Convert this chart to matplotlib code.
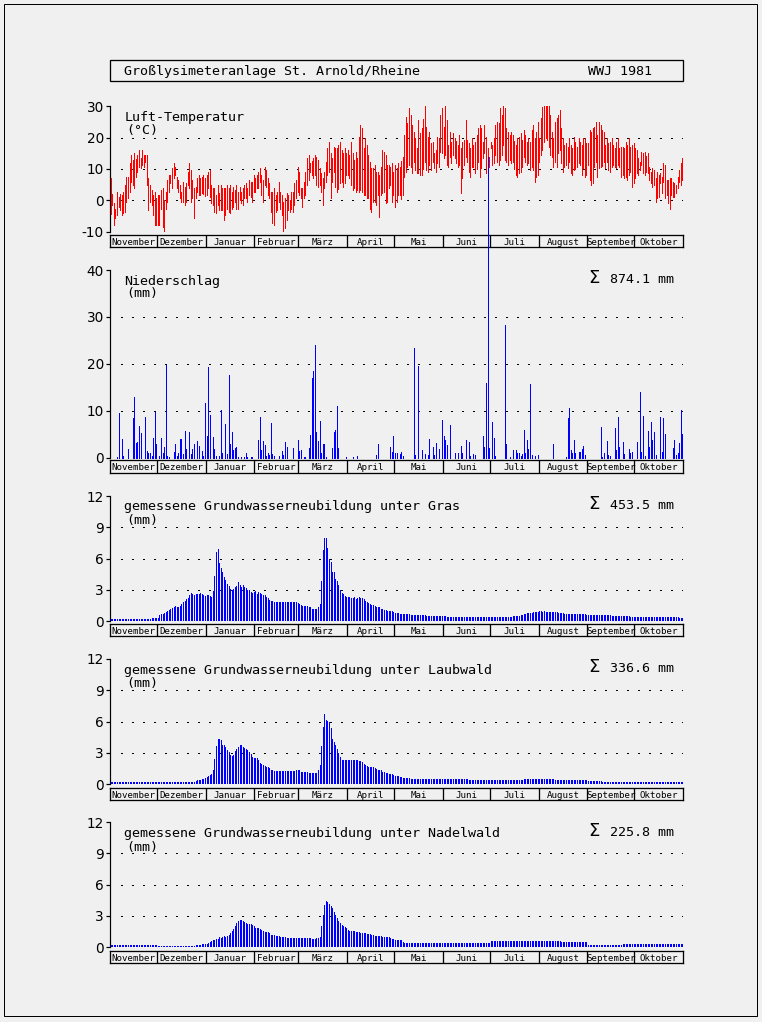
import numpy as np
import matplotlib
matplotlib.use("Agg")
import matplotlib.pyplot as plt
from matplotlib.patches import Rectangle

plt.rcParams['axes.unicode_minus'] = False

# ---------------------------------------------------------------- data
MONTHS = ["November", "Dezember", "Januar", "Februar", "März", "April",
          "Mai", "Juni", "Juli", "August", "September", "Oktober"]
MONTH_DAYS = [30, 31, 31, 28, 31, 30, 31, 30, 31, 31, 30, 31]

TITLE = "Großlysimeteranlage St. Arnold/Rheine"
YEAR_LABEL = "WWJ 1981"

TEMP_TITLE = "Luft-Temperatur"
TEMP_UNIT = "(°C)"
PREC_TITLE = "Niederschlag"
GW_TITLES = ["gemessene Grundwasserneubildung unter Gras",
             "gemessene Grundwasserneubildung unter Laubwald",
             "gemessene Grundwasserneubildung unter Nadelwald"]
SUM_PREC = "874.1"
GW_SUMS = ["453.5", "336.6", "225.8"]

TEMP_TICKS = [-10, 0, 10, 20, 30]
PREC_TICKS = [0, 10, 20, 30, 40]
GW_TICKS = [0, 3, 6, 9, 12]

# daily maximum air temperature (°C), one list per month
TMAX = [
    [7.0, 2.1, -0.7, -2.6, 2.8, 1.2, 1.9, 1.7, 2.8, 4.9, 7.6, 7.6, 11.8, 14.5, 12.8,
     15.0, 13.2, 14.5, 16.1, 13.4, 16.1, 14.5, 14.5, 14.5, 7.0, 4.9, 3.3, 1.7, 2.8, 0.6],
    [1.7, 1.7, 3.3, 3.8, 0.1, 2.8, 6.5, 8.1, 8.1, 10.2, 11.8, 10.7, 7.6, 6.5, 4.9, 2.8,
     6.0, 4.4, 5.4, 9.1, 11.8, 9.7, 6.5, 3.8, 4.4, 7.0, 8.1, 7.0, 7.5, 8.0, 7.0],
    [8.1, 9.1, 9.7, 4.9, 3.8, 3.8, 1.7, 4.9, 2.2, 4.9, 4.0, 3.8, 3.8, 4.9, 3.8, 4.9,
     2.8, 4.4, 3.3, 4.9, 2.8, 4.4, 2.8, 3.8, 4.9, 5.4, 3.8, 6.5, 6.0, 6.0, 8.1],
    [7.0, 8.1, 9.1, 10.2, 8.1, 6.5, 10.7, 9.7, 7.0, 5.4, 2.8, 2.8, 3.8, 1.7, 2.8, 6.0,
     2.8, 1.7, -0.4, 0.6, 2.2, 1.7, 0.1, 2.8, 2.8, 5.4, 6.5, 10.7],
    [9.1, 3.8, 3.8, 6.0, 9.1, 13.4, 14.5, 11.8, 12.5, 13.4, 14.5, 13.9, 12.9, 10.2, 8.6,
     7.0, 9.1, 12.3, 16.6, 18.7, 15.0, 13.4, 17.1, 16.6, 16.6, 17.5, 18.7, 16.1, 15.0,
     16.6, 15.0],
    [16.1, 14.5, 18.7, 15.0, 12.9, 15.5, 13.4, 20.3, 24.0, 23.0, 16.6, 19.8, 17.7, 14.5,
     12.3, 10.2, 10.2, 11.3, 9.1, 9.1, 8.1, 10.7, 16.1, 15.5, 14.5, 11.3, 11.3, 10.7,
     11.8, 9.1],
    [11.3, 10.2, 11.8, 10.7, 12.5, 13.9, 20.9, 26.7, 24.6, 29.4, 27.2, 24.0, 21.9, 19.8,
     16.6, 25.6, 21.4, 23.0, 26.0, 30.4, 23.5, 20.3, 21.9, 18.2, 18.7, 15.0, 16.1, 20.3,
     19.8, 27.2, 29.4],
    [23.5, 31.0, 25.6, 17.7, 21.9, 18.7, 21.4, 19.8, 19.0, 17.7, 20.9, 16.6, 18.7, 19.3,
     25.6, 19.3, 18.2, 16.6, 19.8, 17.7, 18.7, 21.0, 23.0, 24.0, 23.0, 18.7, 24.0, 20.3,
     16.6, 13.9],
    [18.7, 17.7, 19.8, 24.0, 25.1, 24.6, 29.4, 27.2, 32.0, 29.4, 23.0, 21.9, 20.9, 21.9,
     20.9, 19.0, 17.7, 19.8, 20.3, 21.4, 19.3, 22.4, 20.9, 18.7, 19.8, 18.7, 22.4, 24.0,
     19.8, 21.9, 25.1],
    [19.8, 26.2, 29.9, 32.6, 32.0, 31.5, 30.0, 27.2, 21.9, 19.8, 25.1, 26.2, 27.2, 28.8,
     23.0, 19.8, 17.7, 18.2, 17.1, 19.8, 17.7, 16.6, 20.3, 18.5, 17.1, 19.8, 18.7, 17.7,
     19.8, 19.8, 18.2],
    [18.2, 22.4, 21.9, 23.0, 23.5, 25.1, 20.9, 25.1, 24.0, 22.5, 21.9, 17.7, 19.8, 18.2,
     18.7, 19.8, 17.7, 16.6, 18.7, 19.8, 16.6, 17.1, 17.0, 16.6, 18.7, 17.7, 19.8, 17.1,
     17.7, 18.2],
    [16.6, 16.1, 13.4, 12.3, 15.5, 15.0, 15.5, 14.0, 15.0, 10.7, 9.1, 10.2, 9.7, 7.0, 9.1,
     8.1, 8.6, 7.6, 11.8, 11.3, 6.5, 6.5, 7.0, 7.0, 6.0, 5.4, 4.9, 7.6, 9.7, 11.8, 13.4],
]

# daily minimum air temperature (°C)
TMIN = [
    [-4.5, -1.5, -7.9, -5.7, -4.7, -2.0, -3.1, -4.7, -4.1, -3.6, -0.4, 0.6, 2.8, 6.0, 4.9,
     3.8, 7.6, 9.1, 10.7, 10.2, 11.3, 10.7, 12.3, 4.9, -3.1, -0.4, -1.5, -4.7, -7.9, -7.9],
    [-7.9, -7.9, -2.6, -8.4, -10.5, -2.6, -0.4, 2.8, 5.4, 3.8, 7.0, 8.1, 3.8, 2.8, 0.6,
     -0.4, -0.4, -1.5, -0.4, 4.9, 3.8, -0.4, 0.6, -5.7, 0.6, 2.8, 1.7, 1.7, 2.2, 2.0, 1.5],
    [1.7, 3.8, 1.2, -1.0, -1.5, -3.6, -4.1, -1.5, -3.1, -3.1, -3.0, -6.3, -4.7, -2.6, -3.6,
     -4.1, -2.6, -2.0, -0.4, -2.6, -2.6, 0.0, -1.0, -1.5, 0.6, 0.6, -0.4, 1.7, 1.2, -0.4, 2.8],
    [2.8, 3.8, 3.8, 6.0, 1.7, -0.4, 4.9, 4.4, 1.7, 0.6, -3.6, -7.3, -7.9, -3.6, -3.1, -0.4,
     -2.6, -4.7, -11.0, -8.9, -6.3, -3.1, -3.6, -2.6, -3.6, -1.5, 0.6, 2.8],
    [1.7, 0.6, -2.0, 0.6, 1.7, 4.9, 6.5, 9.1, 8.0, 7.0, 8.1, 4.9, 4.4, 4.9, 2.8, -1.5, 3.8,
     6.0, 8.1, 9.1, 0.6, 6.0, 9.1, 4.4, 2.8, 3.5, 5.4, 6.0, 4.4, 5.4, 8.1],
    [8.1, 7.0, 4.9, 3.3, 3.8, 2.8, 3.3, 2.8, 3.3, 2.8, 1.7, 1.7, 0.6, 0.6, -2.6, -3.6, -0.4,
     -0.4, -1.5, 1.7, -5.2, 1.7, 2.2, 2.8, -1.0, -0.4, 3.8, 4.9, -0.4, 1.7],
    [-2.0, -0.4, 1.7, 1.7, 0.5, 1.7, 7.6, 9.1, 10.7, 11.3, 10.7, 8.6, 12.3, 9.7, 8.6, 8.6,
     8.1, 8.1, 10.0, 12.3, 9.7, 9.1, 11.3, 9.7, 12.3, 10.2, 9.1, 11.8, 10.7, 15.5, 15.0],
    [13.4, 14.5, 11.3, 10.7, 13.9, 11.8, 14.5, 13.4, 12.0, 10.7, 11.3, 2.2, 7.0, 11.3, 13.9,
     12.3, 9.1, 7.6, 10.7, 10.7, 8.6, 10.0, 12.3, 7.6, 10.2, 13.4, 15.0, 8.6, 12.3, 10.7],
    [16.6, 11.3, 11.8, 14.5, 12.3, 11.3, 12.9, 14.5, 17.7, 12.9, 12.3, 11.3, 12.9, 11.8,
     12.3, 10.0, 8.1, 7.6, 8.6, 9.1, 10.7, 13.9, 12.3, 11.3, 11.8, 9.7, 10.7, 9.7, 6.0, 7.6,
     8.1],
    [12.3, 14.5, 16.1, 18.7, 19.8, 19.3, 17.0, 14.5, 13.9, 10.7, 12.3, 10.7, 15.0, 16.1,
     11.8, 9.1, 10.7, 11.3, 10.2, 12.3, 8.6, 8.1, 9.7, 10.0, 10.7, 11.8, 11.3, 8.1, 10.2,
     7.6, 8.1],
    [11.3, 6.5, 4.9, 5.4, 10.7, 12.3, 7.6, 10.2, 10.7, 11.0, 12.3, 10.2, 12.3, 9.7, 9.1,
     10.7, 11.3, 10.7, 10.2, 11.3, 10.7, 7.6, 8.0, 7.0, 7.6, 6.5, 8.1, 9.1, 4.4, 5.4],
    [7.0, 8.6, 8.1, 9.7, 11.3, 8.6, 8.1, 9.0, 8.6, 6.5, 5.4, 4.4, 4.9, -0.4, 0.6, 1.2, 5.4,
     2.2, 6.0, 0.6, 1.7, -1.0, -2.6, 1.7, 1.0, 1.2, 2.2, 3.8, 6.0, 4.9, 6.5],
]

# daily precipitation (mm)
PRECIP = [
    [0, 0, 0, 0, 0.2, 9.6, 0, 4.0, 0.4, 0, 0, 1.8, 0, 0, 8.5, 13.0, 3.2, 3.4, 6.8, 5.3,
     0, 0, 8.7, 1.5, 0.9, 1.1, 0.4, 4.2, 9.8, 3.0],
    [0, 0.4, 4.2, 1.1, 2.3, 19.8, 0.4, 0.2, 0, 0, 1.2, 3.0, 0.4, 1.1, 4.0, 4.0, 0.7, 5.7,
     1.8, 0, 5.5, 0.7, 1.8, 3.0, 0, 3.6, 2.5, 0, 1.4, 0.4, 11.7],
    [4.6, 19.4, 9.2, 0, 4.5, 1.8, 0.4, 0, 0.4, 10.2, 1.1, 0, 7.2, 0.7, 17.6, 3.0, 5.5, 1.6,
     2.1, 2.2, 0.2, 0, 0.2, 0, 0.2, 1.0, 0.2, 0, 0.2, 0.2, 0],
    [0, 0, 3.8, 8.6, 1.6, 3.6, 2.7, 0.4, 0.9, 0.6, 7.3, 0.8, 0.4, 0, 0, 0.4, 0, 1.4, 0.5,
     3.3, 2.2, 0, 0, 0, 2.0, 0, 0, 3.8],
    [1.4, 1.6, 0, 0.2, 0.2, 0, 2.1, 4.8, 17.0, 18.5, 24.0, 5.5, 3.6, 7.9, 1.1, 2.9, 2.9,
     0.2, 0, 0, 0, 2.1, 5.5, 5.9, 11.0, 2.1, 0, 0, 0, 0, 0.1],
    [0, 0, 0, 0.1, 0, 0, 0.3, 0, 0, 0, 0, 0, 0, 0, 0, 0, 0, 0, 0.5, 2.9, 0, 0, 0, 0, 0, 0,
     0, 2.2, 1.3, 4.6],
    [1.0, 1.1, 0, 0.7, 1.2, 0.4, 0, 0, 0, 0, 0, 0, 23.4, 0.5, 0, 19.5, 0, 1.6, 0, 0.7, 0,
     0.5, 3.9, 0, 2.2, 0.5, 3.1, 0, 1.8, 0, 8.0],
    [4.6, 3.7, 2.7, 0, 7.0, 0, 0, 0.9, 0, 0.9, 0, 2.4, 0.9, 0, 3.7, 0, 3.3, 0.4, 0, 0.7,
     0.5, 0, 0, 0, 0, 4.6, 2.3, 15.9, 64.0, 2.1],
    [0, 7.6, 4.2, 0.4, 0, 0, 0, 0, 0, 28.3, 2.9, 0, 0.2, 0, 1.6, 0, 1.6, 0.9, 1.0, 0.4,
     0.7, 5.9, 0.9, 3.8, 1.8, 15.7, 0.5, 0, 0.4, 0, 0.5],
    [0, 0, 0, 0, 0, 0, 0, 0, 0, 2.9, 0, 0, 0, 0, 0, 0, 0, 0.2, 8.5, 10.6, 1.6, 1.1, 3.8,
     1.1, 0, 1.2, 1.2, 1.8, 2.4, 0.5, 0],
    [0, 0, 0, 0, 0, 0, 0, 0, 6.5, 0.2, 0.9, 0, 3.6, 0.5, 0.4, 0, 0, 6.3, 1.6, 8.7, 2.3, 0,
     3.3, 0.7, 0, 0, 1.8, 0.9, 1.2, 0],
    [0, 3.3, 0, 14.0, 1.2, 8.9, 0.4, 0, 5.7, 2.3, 7.6, 3.8, 5.5, 0.5, 0, 0, 8.7, 1.2, 8.5,
     5.0, 0, 0, 0, 0, 2.0, 3.8, 0.5, 1.1, 3.1, 10.1, 5.0],
]

# daily measured groundwater recharge under grass (mm)
GW_GRAS = [
    [0.2, 0.2, 0.2, 0.2, 0.2, 0.2, 0.2, 0.2, 0.2, 0.2, 0.2, 0.2, 0.2, 0.2, 0.2, 0.2, 0.2,
     0.2, 0.2, 0.2, 0.2, 0.2, 0.2, 0.2, 0.2, 0.2, 0.25, 0.25, 0.3, 0.3],
    [0.3, 0.55, 0.65, 0.7, 0.8, 0.85, 0.95, 1.05, 1.15, 1.25, 1.3, 1.4, 1.35, 1.3, 1.45,
     1.6, 1.8, 1.95, 2.1, 2.25, 2.45, 2.7, 2.6, 2.5, 2.55, 2.6, 2.6, 2.65, 2.55, 2.5, 2.4],
    [2.5, 2.5, 2.4, 2.35, 2.9, 4.3, 6.6, 6.9, 5.6, 5.1, 4.7, 4.2, 3.9, 3.6, 3.4, 3.1, 3.0,
     3.1, 3.3, 3.4, 3.7, 3.5, 3.3, 3.5, 3.3, 3.2, 3.0, 3.0, 2.8, 2.7, 2.8],
    [2.9, 2.6, 2.8, 2.65, 2.6, 2.5, 2.45, 2.3, 2.2, 2.0, 1.95, 1.9, 1.8, 1.8, 1.8, 1.8,
     1.8, 1.8, 1.8, 1.8, 1.8, 1.8, 1.8, 1.8, 1.8, 1.8, 1.8, 1.7],
    [1.6, 1.5, 1.45, 1.45, 1.4, 1.4, 1.3, 1.3, 1.2, 1.15, 1.2, 1.2, 1.3, 1.6, 3.8, 6.8,
     8.0, 8.0, 7.0, 6.0, 5.7, 4.7, 4.7, 4.0, 3.8, 3.5, 3.0, 2.7, 2.6, 2.4, 2.35],
    [2.35, 2.3, 2.2, 2.25, 2.3, 2.1, 2.2, 2.3, 2.25, 2.2, 2.1, 1.9, 1.8, 1.7, 1.6, 1.55,
     1.5, 1.4, 1.35, 1.3, 1.3, 1.2, 1.15, 1.1, 1.05, 1.0, 1.0, 0.95, 0.95, 0.9],
    [0.8, 0.75, 0.75, 0.7, 0.7, 0.7, 0.7, 0.65, 0.65, 0.65, 0.6, 0.6, 0.6, 0.6, 0.6, 0.6,
     0.55, 0.55, 0.55, 0.55, 0.5, 0.5, 0.5, 0.5, 0.5, 0.5, 0.5, 0.5, 0.5, 0.45, 0.45],
    [0.45, 0.45, 0.4, 0.35, 0.35, 0.35, 0.35, 0.35, 0.35, 0.35, 0.35, 0.35, 0.35, 0.35,
     0.35, 0.35, 0.35, 0.35, 0.35, 0.35, 0.35, 0.35, 0.35, 0.35, 0.35, 0.35, 0.35, 0.35,
     0.35, 0.35],
    [0.35, 0.35, 0.35, 0.35, 0.35, 0.35, 0.35, 0.35, 0.35, 0.35, 0.35, 0.35, 0.35, 0.4,
     0.45, 0.45, 0.5, 0.5, 0.5, 0.55, 0.6, 0.65, 0.7, 0.75, 0.75, 0.8, 0.8, 0.85, 0.9, 0.9,
     0.9],
    [0.95, 0.95, 0.9, 0.95, 0.9, 0.9, 0.9, 0.85, 0.85, 0.85, 0.85, 0.85, 0.8, 0.8, 0.75,
     0.75, 0.7, 0.7, 0.7, 0.7, 0.7, 0.7, 0.7, 0.7, 0.7, 0.7, 0.7, 0.65, 0.65, 0.65, 0.6],
    [0.6, 0.6, 0.6, 0.6, 0.6, 0.6, 0.6, 0.6, 0.55, 0.55, 0.55, 0.55, 0.55, 0.55, 0.55, 0.5,
     0.5, 0.5, 0.5, 0.5, 0.5, 0.5, 0.45, 0.45, 0.45, 0.45, 0.45, 0.4, 0.35, 0.35],
    [0.35, 0.35, 0.35, 0.35, 0.35, 0.35, 0.35, 0.35, 0.35, 0.35, 0.35, 0.35, 0.35, 0.35,
     0.35, 0.35, 0.35, 0.35, 0.35, 0.35, 0.35, 0.35, 0.35, 0.35, 0.35, 0.35, 0.35, 0.35,
     0.3, 0.3, 0.25],
]

# daily measured groundwater recharge under deciduous forest (mm)
GW_LAUB = [
    [0.2, 0.2, 0.2, 0.2, 0.2, 0.2, 0.2, 0.2, 0.2, 0.2, 0.2, 0.2, 0.2, 0.2, 0.2, 0.2, 0.2,
     0.2, 0.2, 0.2, 0.2, 0.2, 0.2, 0.15, 0.15, 0.15, 0.15, 0.15, 0.15, 0.15],
    [0.15, 0.15, 0.15, 0.15, 0.15, 0.15, 0.2, 0.2, 0.2, 0.2, 0.2, 0.2, 0.2, 0.2, 0.2, 0.2,
     0.2, 0.2, 0.2, 0.2, 0.2, 0.2, 0.2, 0.2, 0.3, 0.35, 0.4, 0.4, 0.45, 0.5, 0.55],
    [0.65, 0.75, 0.85, 1.0, 1.35, 2.4, 3.65, 4.3, 4.35, 4.2, 3.75, 3.7, 3.6, 3.3, 3.1, 2.8,
     2.7, 2.8, 3.2, 3.4, 3.55, 3.75, 3.75, 3.6, 3.5, 3.4, 3.3, 3.1, 2.9, 2.6, 2.5],
    [2.45, 2.45, 2.3, 2.05, 1.9, 1.8, 1.7, 1.65, 1.6, 1.5, 1.35, 1.3, 1.25, 1.25, 1.25,
     1.25, 1.25, 1.25, 1.25, 1.25, 1.25, 1.25, 1.25, 1.25, 1.25, 1.25, 1.3, 1.35],
    [1.3, 1.2, 1.15, 1.15, 1.15, 1.15, 1.1, 1.1, 1.05, 1.05, 1.05, 1.05, 1.35, 1.8, 3.65,
     5.5, 6.7, 6.15, 6.05, 5.95, 5.35, 4.35, 4.05, 3.75, 3.4, 3.0, 2.6, 2.3, 2.3, 2.3, 2.3],
    [2.3, 2.3, 2.3, 2.3, 2.3, 2.3, 2.3, 2.25, 2.2, 2.15, 1.9, 1.8, 1.7, 1.65, 1.65, 1.6,
     1.6, 1.5, 1.4, 1.35, 1.3, 1.3, 1.2, 1.2, 1.1, 1.05, 1.0, 0.95, 0.95, 0.9],
    [0.8, 0.75, 0.75, 0.7, 0.65, 0.6, 0.6, 0.6, 0.55, 0.55, 0.5, 0.5, 0.5, 0.5, 0.5, 0.5,
     0.5, 0.5, 0.5, 0.45, 0.45, 0.45, 0.45, 0.45, 0.45, 0.45, 0.45, 0.45, 0.45, 0.45, 0.45],
    [0.45, 0.45, 0.45, 0.45, 0.45, 0.45, 0.45, 0.45, 0.45, 0.45, 0.45, 0.45, 0.45, 0.45,
     0.45, 0.45, 0.4, 0.4, 0.4, 0.4, 0.4, 0.4, 0.4, 0.4, 0.4, 0.4, 0.4, 0.4, 0.42, 0.42],
    [0.42, 0.42, 0.42, 0.42, 0.42, 0.42, 0.42, 0.42, 0.42, 0.42, 0.42, 0.42, 0.42, 0.42,
     0.42, 0.42, 0.42, 0.42, 0.42, 0.42, 0.42, 0.45, 0.45, 0.45, 0.45, 0.45, 0.45, 0.45,
     0.45, 0.45, 0.45],
    [0.45, 0.45, 0.45, 0.45, 0.45, 0.45, 0.45, 0.45, 0.45, 0.45, 0.4, 0.4, 0.4, 0.4, 0.4,
     0.4, 0.4, 0.4, 0.4, 0.4, 0.4, 0.4, 0.4, 0.4, 0.4, 0.4, 0.4, 0.4, 0.4, 0.4, 0.4],
    [0.3, 0.3, 0.3, 0.3, 0.3, 0.3, 0.3, 0.3, 0.3, 0.2, 0.2, 0.2, 0.2, 0.2, 0.2, 0.2, 0.2,
     0.2, 0.2, 0.2, 0.2, 0.2, 0.22, 0.22, 0.22, 0.22, 0.22, 0.22, 0.22, 0.22],
    [0.22, 0.22, 0.22, 0.22, 0.22, 0.22, 0.22, 0.22, 0.22, 0.22, 0.22, 0.22, 0.22, 0.22,
     0.22, 0.22, 0.22, 0.22, 0.22, 0.22, 0.22, 0.22, 0.22, 0.22, 0.22, 0.22, 0.22, 0.22,
     0.22, 0.22, 0.22],
]

# daily measured groundwater recharge under coniferous forest (mm)
GW_NADEL = [
    [0.22, 0.22, 0.22, 0.22, 0.22, 0.22, 0.22, 0.22, 0.22, 0.22, 0.22, 0.22, 0.22, 0.22,
     0.22, 0.22, 0.22, 0.22, 0.22, 0.22, 0.22, 0.22, 0.22, 0.22, 0.22, 0.22, 0.22, 0.22,
     0.22, 0.22],
    [0.12, 0.12, 0.12, 0.12, 0.12, 0.12, 0.12, 0.12, 0.12, 0.12, 0.12, 0.12, 0.12, 0.12,
     0.12, 0.12, 0.12, 0.12, 0.12, 0.12, 0.12, 0.12, 0.12, 0.12, 0.15, 0.15, 0.2, 0.2,
     0.25, 0.25, 0.3],
    [0.3, 0.35, 0.45, 0.55, 0.7, 0.7, 0.75, 0.8, 0.95, 0.9, 1.0, 1.1, 1.0, 1.05, 1.2, 1.3,
     1.5, 1.75, 2.0, 2.3, 2.45, 2.55, 2.6, 2.5, 2.4, 2.3, 2.25, 2.25, 2.25, 2.1, 2.0],
    [1.85, 1.85, 1.8, 1.7, 1.6, 1.5, 1.45, 1.45, 1.4, 1.35, 1.2, 1.2, 1.15, 1.1, 1.1, 1.05,
     1.0, 0.95, 0.95, 0.95, 0.9, 0.9, 0.9, 0.9, 0.9, 0.9, 0.9, 0.9],
    [0.9, 0.9, 0.85, 0.85, 0.85, 0.9, 0.85, 0.85, 0.8, 0.8, 0.8, 0.85, 0.9, 1.0, 2.0, 3.1,
     4.05, 4.45, 4.3, 4.1, 3.9, 3.7, 3.4, 3.1, 2.8, 2.5, 2.3, 2.15, 2.0, 1.9, 1.8],
    [1.65, 1.55, 1.5, 1.5, 1.5, 1.45, 1.45, 1.4, 1.35, 1.35, 1.3, 1.3, 1.25, 1.25, 1.25,
     1.2, 1.2, 1.1, 1.1, 1.1, 1.05, 1.05, 1.0, 1.0, 1.0, 0.95, 0.95, 0.85, 0.8, 0.75],
    [0.7, 0.7, 0.7, 0.7, 0.7, 0.45, 0.4, 0.4, 0.4, 0.4, 0.4, 0.4, 0.4, 0.4, 0.4, 0.4, 0.4,
     0.4, 0.4, 0.4, 0.4, 0.35, 0.35, 0.35, 0.35, 0.35, 0.35, 0.35, 0.35, 0.35, 0.35],
    [0.35, 0.35, 0.35, 0.35, 0.35, 0.35, 0.35, 0.35, 0.35, 0.35, 0.35, 0.35, 0.35, 0.35,
     0.35, 0.35, 0.35, 0.35, 0.35, 0.35, 0.35, 0.35, 0.35, 0.35, 0.35, 0.35, 0.35, 0.35,
     0.35, 0.35],
    [0.55, 0.55, 0.55, 0.55, 0.55, 0.55, 0.55, 0.55, 0.55, 0.55, 0.55, 0.55, 0.55, 0.55,
     0.55, 0.55, 0.55, 0.55, 0.55, 0.55, 0.55, 0.55, 0.55, 0.55, 0.55, 0.55, 0.55, 0.55,
     0.55, 0.55, 0.55],
    [0.55, 0.55, 0.55, 0.55, 0.55, 0.55, 0.55, 0.55, 0.55, 0.55, 0.55, 0.55, 0.55, 0.55,
     0.45, 0.45, 0.45, 0.45, 0.45, 0.45, 0.45, 0.45, 0.45, 0.45, 0.45, 0.45, 0.45, 0.45,
     0.45, 0.45, 0.45],
    [0.22, 0.22, 0.22, 0.22, 0.22, 0.22, 0.22, 0.22, 0.22, 0.22, 0.22, 0.22, 0.22, 0.22,
     0.22, 0.22, 0.22, 0.22, 0.22, 0.22, 0.22, 0.22, 0.28, 0.28, 0.28, 0.28, 0.28, 0.28,
     0.28, 0.28],
    [0.25, 0.25, 0.25, 0.25, 0.25, 0.25, 0.25, 0.25, 0.25, 0.25, 0.25, 0.25, 0.25, 0.25,
     0.25, 0.25, 0.25, 0.25, 0.25, 0.25, 0.25, 0.25, 0.25, 0.25, 0.25, 0.25, 0.25, 0.25,
     0.25, 0.25, 0.25],
]


def flatten(monthly):
    for m, (vals, n) in enumerate(zip(monthly, MONTH_DAYS)):
        assert len(vals) == n, (m, len(vals), n)
    return np.array([v for vals in monthly for v in vals], dtype=float)


tmax = flatten(TMAX)
tmin = flatten(TMIN)
precip = flatten(PRECIP)
gw_series = [flatten(GW_GRAS), flatten(GW_LAUB), flatten(GW_NADEL)]
n_days = sum(MONTH_DAYS)
days = np.arange(n_days) + 0.5
edges = np.concatenate([[0], np.cumsum(MONTH_DAYS)])

# ---------------------------------------------------------------- figure
W, H = 762, 1022
BG = "#f0f0f0"
RED = "#ff0000"
BLUE = "#0000ff"
MONO = "DejaVu Sans Mono"
PX = 0.72                     # one pixel in points at 100 dpi
TXT = 9.6                     # panel text size
X0, X1 = 110, 683             # plot area in pixels
DATA_LW = 0.55                # data line width (points) -> about one pixel

fig = plt.figure(figsize=(W / 100, H / 100), dpi=100)
fig.patch.set_facecolor(BG)


def fx(x):
    return x / W


def fy(y):
    return 1 - y / H


def axes_px(x0, y0, x1, y1):
    ax = fig.add_axes([fx(x0), fy(y1), (x1 - x0) / W, (y1 - y0) / H])
    ax.patch.set_visible(False)
    return ax


def text_px(x, y, s, **kw):
    kw.setdefault("family", MONO)
    kw.setdefault("fontsize", TXT)
    kw.setdefault("ha", "left")
    kw.setdefault("va", "baseline")
    fig.text(fx(x), fy(y), s, color="black", **kw)


def value_axes(y_top, y_bot, ymin, ymax, ticks, grid):
    ax = axes_px(X0, y_top, X1, y_bot)
    ax.set_xlim(0, n_days)
    ax.set_ylim(ymin, ymax)
    for side in ("top", "right", "bottom"):
        ax.spines[side].set_visible(False)
    ax.spines["left"].set_linewidth(PX * 1.2)
    ax.set_xticks([])
    ax.set_yticks(ticks)
    ax.set_yticklabels([str(t) for t in ticks])
    ax.tick_params(axis="y", direction="out", length=2.6, width=PX * 1.2,
                   pad=1.8, labelsize=9.8)
    for g in grid:
        ax.axhline(g, xmin=10.5 / (X1 - X0), xmax=1.0, color="black",
                   lw=0.8, linestyle=(0, (1, 8.9)), antialiased=False, zorder=1)
    return ax


def month_bar(y_top, y_bot):
    ax = axes_px(X0, y_top, X1, y_bot)
    ax.set_xlim(0, n_days)
    ax.set_ylim(0, 1)
    ax.set_xticks([])
    ax.set_yticks([])
    for sp in ax.spines.values():
        sp.set_linewidth(PX * 1.3)
    for e in edges[1:-1]:
        ax.axvline(e, color="black", lw=PX * 1.3)
    for i, name in enumerate(MONTHS):
        ax.text((edges[i] + edges[i + 1]) / 2, 0.2, name, ha="center",
                va="baseline", family=MONO, fontsize=6.6)
    return ax


def sum_label(x, y, value):
    text_px(x, y, "Σ", family="DejaVu Sans", fontsize=13)
    text_px(x + 22.5, y, value + " mm")


# outer frame and title box
fig.add_artist(Rectangle((fx(4), fy(1016)), (757 - 4) / W, (1016 - 4) / H,
                         transform=fig.transFigure, fill=False,
                         edgecolor="black", lw=PX))
fig.add_artist(Rectangle((fx(X0), fy(81)), (X1 - X0) / W, 21 / H,
                         transform=fig.transFigure, fill=False,
                         edgecolor="black", lw=PX * 1.3))
text_px(124.5, 75, TITLE)
text_px(652, 75, YEAR_LABEL, ha="right")

# air temperature
axT = value_axes(106.3, 231.7, TEMP_TICKS[0], TEMP_TICKS[-1], TEMP_TICKS, [0, 10, 20])
axT.vlines(days, tmin, tmax, colors=RED, lw=DATA_LW, antialiased=False, zorder=3)
text_px(124.5, 120.5, TEMP_TITLE)
text_px(126, 134, TEMP_UNIT)
month_bar(235, 247.5)

# precipitation
axP = value_axes(270, 457.7, PREC_TICKS[0], PREC_TICKS[-1], PREC_TICKS, [10, 20, 30])
wet = precip > 0
axP.vlines(days[wet], 0, precip[wet], colors=BLUE, lw=DATA_LW,
           antialiased=False, clip_on=False, zorder=3)
text_px(124.5, 284.5, PREC_TITLE)
text_px(126, 297.5, "(mm)")
sum_label(588, 283, SUM_PREC)
month_bar(460.5, 473)

# groundwater recharge panels
gw_layout = [
    # axes top, axes bottom, title baseline, unit baseline, sum baseline, bar top, bar bottom
    (496, 621, 509.5, 524, 509, 624, 636.5),
    (659, 784, 673.5, 687, 672.5, 787.5, 800),
    (822, 947, 836.5, 851, 835.7, 950.5, 963),
]
for values, title, total, lay in zip(gw_series, GW_TITLES, GW_SUMS, gw_layout):
    top, bot, tb, ub, sb, mt, mb = lay
    ax = value_axes(top, bot, GW_TICKS[0], GW_TICKS[-1], GW_TICKS, [3, 6, 9])
    ax.vlines(days, 0, values, colors=BLUE, lw=DATA_LW, antialiased=False, zorder=3)
    text_px(124.5, tb, title)
    text_px(126, ub, "(mm)")
    sum_label(588, sb, total)
    month_bar(mt, mb)

fig.savefig("out.png", dpi=100, facecolor=BG)
